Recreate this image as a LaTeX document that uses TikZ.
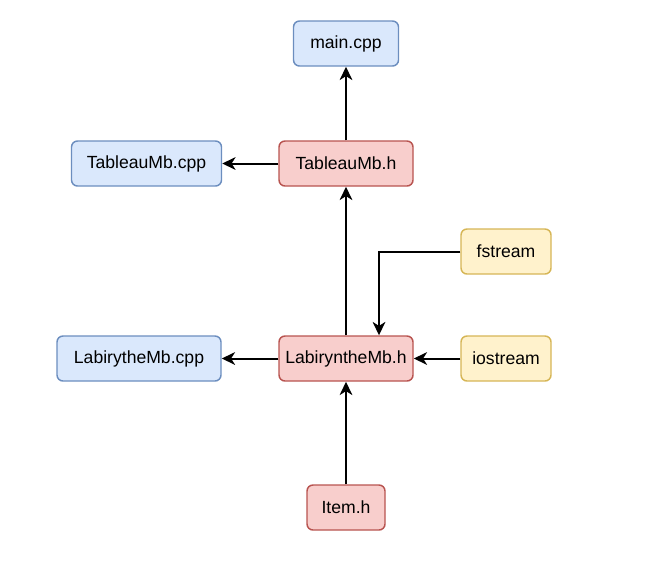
\documentclass[tikz,border=0pt]{standalone}
\usepackage{fontspec}
\setmainfont{Liberation Sans}
\usetikzlibrary{arrows.meta}
\definecolor{cppfill}{HTML}{DAE8FC}
\definecolor{cppdraw}{HTML}{6C8EBF}
\definecolor{hfill}{HTML}{F8CECC}
\definecolor{hdraw}{HTML}{B85450}
\definecolor{libfill}{HTML}{FFF2CC}
\definecolor{libdraw}{HTML}{D6B656}
\begin{document}
\begin{tikzpicture}[x=0.75pt,y=-0.75pt,
        file/.style={rounded corners=4.5pt, line width=1.1pt, minimum height=33.75pt, inner sep=0pt, font=\fontsize{13.2}{15}\selectfont},
        cppfile/.style={file, fill=cppfill, draw=cppdraw},
        hfile/.style={file, fill=hfill, draw=hdraw},
        libfile/.style={file, fill=libfill, draw=libdraw},
        dep/.style={-{Stealth[length=10pt,width=9.5pt,inset=3pt]}, line width=1.5pt}]
        \useasboundingbox (0,0) rectangle (663,569);
        \node[cppfile, minimum width=78.75pt] (main) at (346,43.5) {main.cpp};
        \node[hfile, minimum width=100.5pt] (tabh) at (346,163.5) {TableauMb.h};
        \node[cppfile, minimum width=112.5pt] (tabcpp) at (146.5,163.5) {TableauMb.cpp};
        \node[libfile, minimum width=67.5pt] (fstream) at (506,251.5) {fstream};
        \node[hfile, minimum width=100.5pt] (labh) at (346,358.5) {LabiryntheMb.h};
        \node[cppfile, minimum width=123pt] (labcpp) at (139,358.5) {LabirytheMb.cpp};
        \node[libfile, minimum width=67.5pt] (iostream) at (506,358.5) {iostream};
        \node[hfile, minimum width=58.5pt] (item) at (346,507.5) {Item.h};
        \coordinate (bend) at (379,251.5);
        \draw[dep] (tabh) -- (main);
        \draw[dep] (tabh) -- (tabcpp);
        \draw[dep] (labh) -- (tabh);
        \draw[dep] (labh) -- (labcpp);
        \draw[dep] (item) -- (labh);
        \draw[dep] (iostream) -- (labh);
        \draw[dep] (fstream) -- (bend) -- (bend |- labh.north);
\end{tikzpicture}
\end{document}
